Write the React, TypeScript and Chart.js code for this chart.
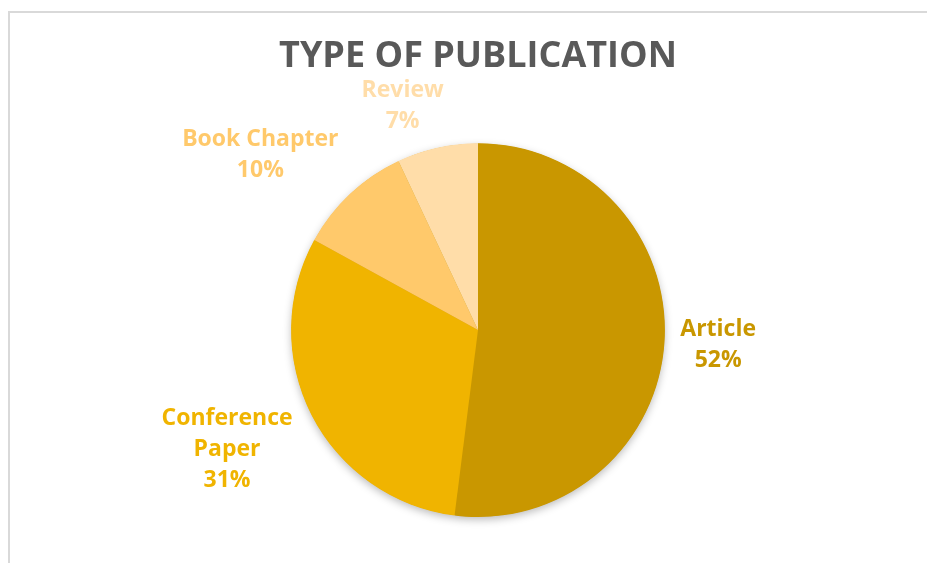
import React, { useEffect, useRef } from "react";
import { Chart, registerables } from "chart.js";

Chart.register(...registerables);

const titleText = "TYPE OF PUBLICATION";
const categories = ["Article", "Conference Paper", "Book Chapter", "Review"];
const values = [52, 31, 10, 7];
const colors = ["#C99700", "#F0B400", "#FFC96B", "#FFDDA9"];

const FONT = "'Open Sans', 'Noto Sans', sans-serif";

const shadowPlugin = {
  id: "pieShadow",
  beforeDatasetsDraw(chart: any) {
    const meta = chart.getDatasetMeta(0);
    const arc = meta.data[0];
    if (!arc) return;
    const { x, y, outerRadius } = arc.getProps(["x", "y", "outerRadius"], true);
    const ctx = chart.ctx;
    ctx.save();
    ctx.shadowColor = "rgba(0,0,0,0.28)";
    ctx.shadowBlur = 9;
    ctx.shadowOffsetX = 0;
    ctx.shadowOffsetY = 3;
    ctx.beginPath();
    ctx.arc(x, y, outerRadius - 0.5, 0, Math.PI * 2);
    ctx.fillStyle = colors[0];
    ctx.fill();
    ctx.restore();
  },
};

// Excel-like "best fit" nudges of label direction (degrees) and gap (px)
const labelAngleShift = [0, 1.5, -8, -6];
const labelGap = [14, 12, 12, 7];

const labelPlugin = {
  id: "outsideLabels",
  afterDatasetsDraw(chart: any) {
    const ctx = chart.ctx;
    const meta = chart.getDatasetMeta(0);
    const data = chart.data.datasets[0].data as number[];
    const total = data.reduce((a, b) => a + b, 0);
    const fontSize = 23;
    const lineH = 31;
    const maxW = 180;
    ctx.save();
    ctx.font = `700 ${fontSize}px ${FONT}`;
    ctx.textAlign = "center";
    ctx.textBaseline = "middle";
    meta.data.forEach((arc: any, i: number) => {
      const { x, y, startAngle, endAngle, outerRadius } = arc.getProps(
        ["x", "y", "startAngle", "endAngle", "outerRadius"],
        true
      );
      const mid = (startAngle + endAngle) / 2 + (labelAngleShift[i] * Math.PI) / 180;
      const dx = Math.cos(mid);
      const dy = Math.sin(mid);
      const name = chart.data.labels[i] as string;
      let lines: string[] = [name];
      if (ctx.measureText(name).width > maxW) lines = name.split(" ");
      lines.push(Math.round((data[i] / total) * 100) + "%");
      const w = Math.max(...lines.map((l) => ctx.measureText(l).width));
      const h = lines.length * lineH;
      const dist =
        outerRadius + labelGap[i] + Math.abs(dx) * (w / 2) + Math.abs(dy) * (h / 2);
      const cx = x + dx * dist;
      const cy = y + dy * dist;
      ctx.fillStyle = colors[i];
      lines.forEach((l, k) => {
        ctx.fillText(l, cx, cy - h / 2 + lineH / 2 + k * lineH);
      });
    });
    ctx.restore();
  },
};

export default function App() {
  const ref = useRef<HTMLCanvasElement | null>(null);
  useEffect(() => {
    if (!ref.current) return;
    const chart = new Chart(ref.current, {
      type: "pie",
      data: {
        labels: categories,
        datasets: [
          {
            data: values,
            backgroundColor: colors,
            borderWidth: 0,
          },
        ],
      },
      options: {
        animation: false,
        responsive: false,
        layout: { padding: { left: 11, right: 0, top: 0, bottom: 46 } },
        plugins: {
          legend: { display: false },
          tooltip: { enabled: false },
          title: {
            display: true,
            text: titleText,
            color: "#595959",
            font: { family: FONT, size: 36, weight: "bold", lineHeight: 1.2 },
            padding: { top: 22, bottom: 65 },
          },
        },
      },
      plugins: [shadowPlugin, labelPlugin],
    });
    return () => chart.destroy();
  }, []);
  return (
    <div style={{ paddingTop: 3 }}>
      <div
        style={{
          width: 927,
          height: 552,
          boxSizing: "border-box",
          borderTop: "2px solid #D9D9D9",
          borderLeft: "2px solid #D9D9D9",
          overflow: "hidden",
        }}
      >
        <canvas ref={ref} width={925} height={550} style={{ display: "block" }} />
      </div>
    </div>
  );
}
